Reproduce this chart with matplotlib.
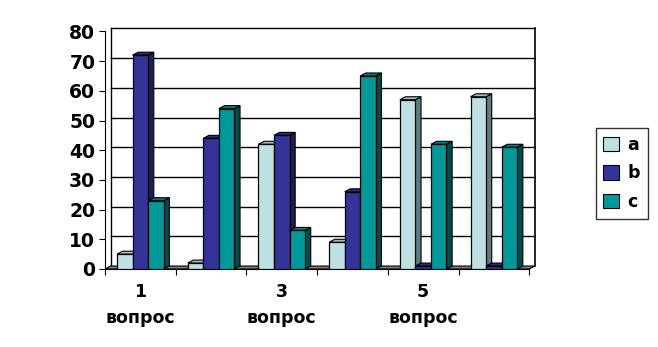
import numpy as np
import matplotlib
matplotlib.use("Agg")
import matplotlib.pyplot as plt
from matplotlib.patches import Polygon, Patch

groups = ["1", "2", "3", "4", "5", "6"]
series = ["a", "b", "c"]
a_vals = [5, 2, 42, 9, 57, 58]
b_vals = [72, 44, 45, 26, 1, 1]
c_vals = [23, 54, 13, 65, 42, 41]
shown_labels = {0: "1", 2: "3", 4: "5"}

front = ["#BDE1E3", "#333399", "#009999"]
side = ["#5F7D7E", "#1E1E5A", "#004C4C"]
top = ["#9CBFC1", "#2A2A80", "#007F7F"]

fig = plt.figure(figsize=(6.58, 3.47), dpi=100)
ax = fig.add_axes([105 / 658, 1 - 269 / 347, 6.1 * 70.7 / 658, 82 * 2.97 / 347])
ax.set_xlim(0, 6.1)
ax.set_ylim(0, 82)

dx, dy = 0.08, 1.0   # depth offset of the fake 3D
n = len(groups)

# back wall gridlines and edges
for v in range(10, 90, 10):
    ax.plot([dx, n + dx], [v + dy, v + dy], color="black", lw=1.0, zorder=1)
ax.plot([dx, dx], [dy, 80 + dy], color="black", lw=1, zorder=1)
ax.plot([n + dx, n + dx], [dy, 80 + dy], color="black", lw=1.2, zorder=1)

# floor
ax.add_patch(Polygon([(0, 0), (n, 0), (n + dx, dy), (dx, dy)], closed=True,
                     facecolor="#808080", edgecolor="black", lw=0.8, zorder=2))

w = 0.22
offs = [0.17, 0.39, 0.61]
for k, vals in enumerate([a_vals, b_vals, c_vals]):
    for i, v in enumerate(vals):
        x = i + offs[k]
        # side face and top face drawn first so the front face sits on top
        ax.add_patch(Polygon([(x + w, 0), (x + w + dx, dy), (x + w + dx, v + dy), (x + w, v)],
                             closed=True, facecolor=side[k], edgecolor="black", lw=0.8, zorder=3 + k))
        ax.add_patch(Polygon([(x, v), (x + dx, v + dy), (x + w + dx, v + dy), (x + w, v)],
                             closed=True, facecolor=top[k], edgecolor="black", lw=0.8, zorder=3 + k))
        ax.bar(x, v, width=w, align="edge", color=front[k], edgecolor="black",
               linewidth=0.9, zorder=3 + k)

for s in ["top", "right"]:
    ax.spines[s].set_visible(False)
ax.spines["left"].set_bounds(0, 80)
ax.spines["bottom"].set_bounds(0, n)
ax.spines["left"].set_zorder(10)

ax.set_yticks(range(0, 90, 10))
ax.set_yticklabels([str(v) for v in range(0, 90, 10)], fontsize=13.5, fontweight="bold")
ax.tick_params(axis="y", length=4, pad=3)
ax.set_xticks(range(0, n + 1))
ax.set_xticklabels([])
ax.tick_params(axis="x", length=4)

tr = ax.get_xaxis_transform()
for i, lab in shown_labels.items():
    ax.text(i + 0.5, -0.094, lab, transform=tr, ha="center", va="center",
            fontsize=12.5, fontweight="bold")
    ax.text(i + 0.5, -0.20, "вопрос", transform=tr, ha="center", va="center",
            fontsize=12.5, fontweight="bold")

handles = [Patch(facecolor=front[k], edgecolor="black", lw=0.8) for k in range(3)]
leg = fig.legend(handles, series, loc="center", bbox_to_anchor=(0.945, 0.5),
                 bbox_transform=fig.transFigure, fancybox=False, edgecolor="black",
                 handlelength=0.9, handleheight=0.9, handletextpad=0.5,
                 labelspacing=0.6, borderpad=0.45,
                 prop={"size": 12.5, "weight": "bold"})
leg.get_frame().set_linewidth(1)

fig.savefig("out.png", dpi=100)
